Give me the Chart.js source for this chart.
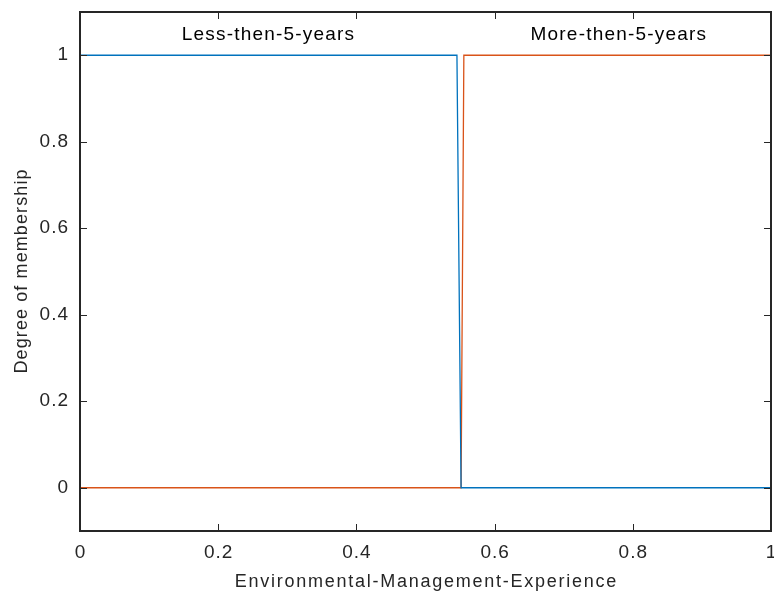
<!DOCTYPE html>
<html>
<head>
<meta charset="utf-8">
<script src="https://cdn.jsdelivr.net/npm/chart.js@4.4.1/dist/chart.umd.min.js"></script>
<style>
  html, body { margin: 0; padding: 0; background: #fff; }
  #wrap { width: 774px; height: 595px; }
</style>
</head>
<body>
<div id="wrap"><canvas id="chart"></canvas></div>
<script>
// membership functions
const lessX = [0, 0.5455, 0.5515, 1];
const lessY = [1, 1, 0, 0];
const moreX = [0, 0.5515, 0.5555, 1];
const moreY = [0, 0, 1, 1];

const xTicks = [0, 0.2, 0.4, 0.6, 0.8, 1];
const yTicks = [0, 0.2, 0.4, 0.6, 0.8, 1];

const labels = [
    { text: "Less-then-5-years", x: 0.272, y: 1.048 },
    { text: "More-then-5-years", x: 0.779, y: 1.048 }
];

const xTitle = "Environmental-Management-Experience";
const yTitle = "Degree of membership";

const toPoints = (xs, ys) => xs.map((x, i) => ({ x: x, y: ys[i] }));
const tickFmt = v => String(Math.round(v * 10) / 10);
const FONT = "'Liberation Sans', Arial, sans-serif";

// text with MATLAB-like loose spacing
function spaced(ctx, text, x, y, spacing) {
    ctx.letterSpacing = spacing + "px";
    // letterSpacing adds a trailing gap, shift back half of it when centred
    const shift = ctx.textAlign === "center" ? spacing / 2 : (ctx.textAlign === "right" ? spacing : 0);
    ctx.fillText(text, x + shift, y);
    ctx.letterSpacing = "0px";
}

// box, inward ticks, tick labels, titles and the two set names
const frame = {
    id: "frame",
    afterDatasetsDraw(chart) {
        const ctx = chart.ctx;
        const a = chart.chartArea;
        const xs = chart.scales.x, ys = chart.scales.y;
        ctx.save();
        ctx.strokeStyle = "#262626";
        ctx.lineWidth = 1;
        const len = 7;
        ctx.beginPath();
        xTicks.forEach(v => {
            const px = Math.round(xs.getPixelForValue(v)) + 0.5;
            ctx.moveTo(px, a.bottom); ctx.lineTo(px, a.bottom - len);
            ctx.moveTo(px, a.top); ctx.lineTo(px, a.top + len);
        });
        yTicks.forEach(v => {
            const py = Math.round(ys.getPixelForValue(v)) + 0.5;
            ctx.moveTo(a.left, py); ctx.lineTo(a.left + len, py);
            ctx.moveTo(a.right, py); ctx.lineTo(a.right - len, py);
        });
        ctx.stroke();
        ctx.lineWidth = 2;
        ctx.strokeRect(a.left, a.top, a.right - a.left, a.bottom - a.top);

        ctx.fillStyle = "#262626";
        ctx.textBaseline = "middle";
        ctx.font = "19px " + FONT;
        ctx.textAlign = "center";
        xTicks.forEach(v => spaced(ctx, tickFmt(v), xs.getPixelForValue(v), a.bottom + 22, 1));
        ctx.textAlign = "right";
        yTicks.forEach(v => spaced(ctx, tickFmt(v), a.left - 12, ys.getPixelForValue(v), 1));

        ctx.font = "18px " + FONT;
        ctx.textAlign = "center";
        spaced(ctx, xTitle, (a.left + a.right) / 2, a.bottom + 51, 1.75);
        ctx.save();
        ctx.translate(22, (a.top + a.bottom) / 2);
        ctx.rotate(-Math.PI / 2);
        spaced(ctx, yTitle, 0, 0, 1.1);
        ctx.restore();

        ctx.fillStyle = "#000";
        ctx.font = "19px " + FONT;
        labels.forEach(l => {
            spaced(ctx, l.text, xs.getPixelForValue(l.x), ys.getPixelForValue(l.y), 1.2);
        });
        ctx.restore();
    }
};

const hidden = {
    grid: { display: false, drawTicks: false },
    border: { display: false },
    ticks: { display: false },
    title: { display: false }
};

new Chart(document.getElementById("chart"), {
    type: "scatter",
    data: {
        datasets: [
            {
                label: "Less-then-5-years",
                data: toPoints(lessX, lessY),
                showLine: true,
                borderColor: "#0072BD",
                borderWidth: 1.3,
                pointRadius: 0,
                tension: 0
            },
            {
                label: "More-then-5-years",
                data: toPoints(moreX, moreY),
                showLine: true,
                borderColor: "#D95319",
                borderWidth: 1.3,
                pointRadius: 0,
                tension: 0
            }
        ]
    },
    options: {
        responsive: true,
        maintainAspectRatio: false,
        animation: false,
        layout: { padding: { top: 12, right: 3, left: 80, bottom: 64 } },
        plugins: {
            legend: { display: false },
            tooltip: { enabled: false }
        },
        scales: {
            x: Object.assign({ type: "linear", min: 0, max: 1 }, hidden, {
                afterFit: s => { s.height = 0; s.paddingLeft = 0; s.paddingRight = 0; }
            }),
            y: Object.assign({ type: "linear", min: -0.1, max: 1.1 }, hidden, {
                afterFit: s => { s.width = 0; s.paddingTop = 0; s.paddingBottom = 0; }
            })
        }
    },
    plugins: [frame]
});
</script>
</body>
</html>
